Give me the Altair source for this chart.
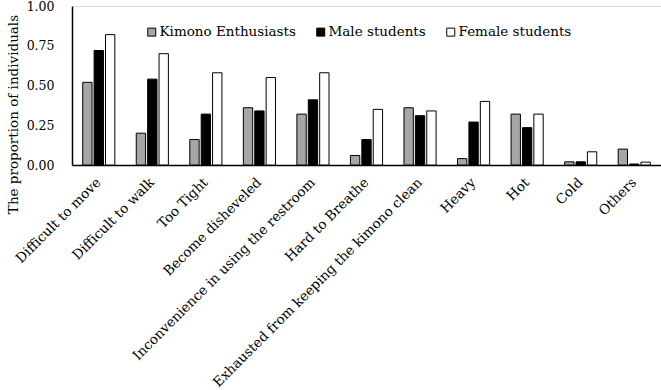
import altair as alt
import pandas as pd

categories = ["Difficult to move", "Difficult to walk", "Too Tight", "Become disheveled",
              "Inconvenience in using the restroom", "Hard to Breathe",
              "Exhausted from keeping the kimono clean", "Heavy", "Hot", "Cold", "Others"]
groups = ["Kimono Enthusiasts", "Male students", "Female students"]
kimono = [0.52, 0.20, 0.16, 0.36, 0.32, 0.06, 0.36, 0.04, 0.32, 0.02, 0.10]
male = [0.72, 0.54, 0.32, 0.34, 0.41, 0.16, 0.31, 0.27, 0.235, 0.02, 0.006]
female = [0.82, 0.70, 0.58, 0.55, 0.58, 0.35, 0.34, 0.40, 0.32, 0.083, 0.018]
colors = ["#a6a6a6", "#000000", "#ffffff"]

rows = []
for g, vals in zip(groups, [kimono, male, female]):
    for c, v in zip(categories, vals):
        rows.append({"cat": c, "group": g, "value": v})
df = pd.DataFrame(rows)

FONT = "DejaVu Serif"

chart = alt.Chart(df).mark_bar(stroke="black", strokeWidth=1).encode(
    x=alt.X("cat:N", sort=categories, title=None,
            scale=alt.Scale(paddingInner=0.4, paddingOuter=0.2),
            axis=alt.Axis(labelAngle=-45, labelAlign="right", labelBaseline="middle",
                          labelFont=FONT, labelFontSize=13.5, labelColor="black",
                          labelPadding=15, ticks=False, tickSize=0,
                          domainColor="black", domainWidth=1.5, labelLimit=400)),
    xOffset=alt.XOffset("group:N", sort=groups,
                        scale=alt.Scale(paddingInner=0.18)),
    y=alt.Y("value:Q", title="The proportion of individuals",
            scale=alt.Scale(domain=[0, 1]),
            axis=alt.Axis(values=[0, 0.25, 0.5, 0.75, 1.0], format=".2f", grid=False,
                          ticks=False, tickSize=0, labelPadding=18,
                          labelFont=FONT, labelFontSize=12.5, labelColor="black",
                          domainColor="black", domainWidth=1.5,
                          titleFont=FONT, titleFontSize=13.5, titleFontWeight="normal",
                          titleColor="black", titleAngle=270, titleX=-59, titleY=108,
                          titleAlign="center", titleBaseline="middle")),
    color=alt.Color("group:N", sort=groups, title=None,
                    scale=alt.Scale(domain=groups, range=colors),
                    legend=alt.Legend(orient="none", direction="horizontal",
                                      legendX=73, legendY=19, padding=0,
                                      symbolType="square", symbolSize=64,
                                      symbolStrokeColor="black", symbolStrokeWidth=1,
                                      labelFont=FONT, labelFontSize=13.5, labelColor="black",
                                      labelOffset=1, columnPadding=18, labelLimit=300)),
).properties(
    width=589, height=159,
    autosize=alt.AutoSizeParams(type="none"),
    padding={"left": 72, "top": 6, "right": 0, "bottom": 225},
).configure_view(stroke=None).configure(background="white")

chart.save("out.html", embed_options={"renderer": "svg", "actions": False})
